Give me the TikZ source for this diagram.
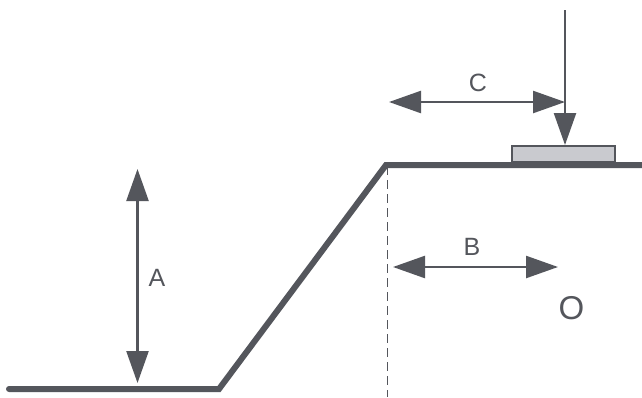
\documentclass[tikz,border=0pt]{standalone}
\usepackage{fontspec}
\setmainfont{Liberation Sans}
\usetikzlibrary{arrows.meta}
\definecolor{ink}{HTML}{54565C}
\definecolor{padfill}{HTML}{C9CACF}
\tikzset{
  ground/.style={draw=ink,line width=6pt,line join=miter,line cap=round},
  dim/.style={draw=ink,line width=2.4pt,{Triangle[length=32pt,width=22pt]}-{Triangle[length=32pt,width=22pt]}},
  load/.style={draw=ink,line width=2.4pt,-{Triangle[length=32pt,width=22pt]}},
  lab/.style={text=ink,font=\fontsize{25}{25}\selectfont,inner sep=0pt},
  pad/.style={draw=ink,line width=2pt,fill=padfill,minimum width=103pt,minimum height=16pt,inner sep=0pt,anchor=south west},
  edgeline/.style={draw=ink,line width=1.5pt,dash pattern=on 9pt off 5pt}
}
\begin{document}
\begin{tikzpicture}[x=1pt,y=-1pt]
\useasboundingbox (0,0) rectangle (642,397);
\fill[white] (0,0) rectangle (642,397);
% crest edge
\coordinate (crest) at (387.5,166);
\coordinate (base) at (387.5,397);
\draw[edgeline] (crest) -- (base);
% ground
\coordinate (g0) at (9,389);
\coordinate (g1) at (219,389);
\coordinate (g2) at (386,165);
\coordinate (g3) at (642,165);
\draw[ground] (g0) -- (g1) -- (g2) -- (g3);
% pad
\node[pad] (padbox) at (511,163) {};
% load
\coordinate (loadtop) at (565,10);
\draw[load] (loadtop) -- (padbox.north -| loadtop);
% dimensions
\coordinate (a1) at (137.5,169);
\coordinate (a2) at (137.5,383);
\draw[dim] (a1) -- (a2);
\coordinate (b1) at (393,267);
\coordinate (b2) at (558,267);
\draw[dim] (b1) -- (b2);
\coordinate (c1) at (389,102);
\coordinate (c2) at (565,102);
\draw[dim] (c1) -- (c2);
% labels
\node[lab] (labA) at (157,278) {A};
\node[lab] (labB) at (472,247) {B};
\node[lab] (labC) at (478,83) {C};
\node[lab,font=\fontsize{33}{33}\selectfont] (labO) at (571.5,308) {O};
\end{tikzpicture}
\end{document}
